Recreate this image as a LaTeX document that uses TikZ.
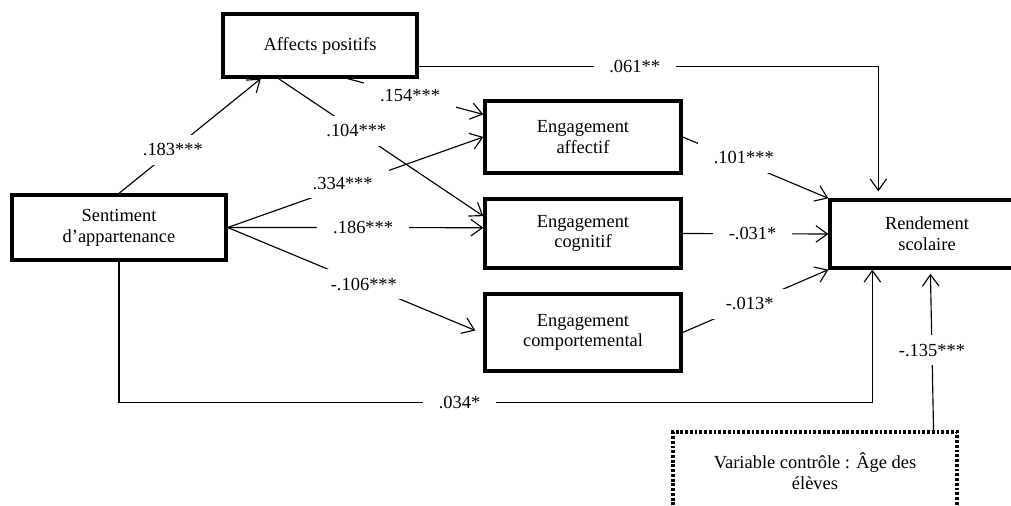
\documentclass[tikz,border=0pt]{standalone}
\usepackage{fontspec}
\setmainfont{Liberation Serif}
\usetikzlibrary{calc,arrows.meta}

\begin{document}
\begin{tikzpicture}[
    x=0.02cm, y=-0.02cm,
    font=\fontsize{10.5}{11.8}\selectfont,
    varbox/.style={draw, line width=1.9pt, align=center, inner sep=2pt},
    ctrlbox/.style={draw, line width=1.8pt, dash pattern=on 1.6pt off 1.1pt, align=center},
    fleche/.style={line width=0.65pt, -{Straight Barb[length=2.3mm,width=3.3mm]}},
    coef/.style={fill=white, inner xsep=9pt, inner ysep=5pt}
  ]
  \useasboundingbox (0,0) rectangle (1011,506);
  \clip (0,0) rectangle (1011,506);

  % variables
  \node[varbox, minimum width=3.88cm, minimum height=1.26cm] (aff) at (320,45.5) {Affects positifs};
  \node[varbox, minimum width=4.28cm, minimum height=1.3cm] (sent) at (119,227.5) {Sentiment\\d’appartenance};
  \node[varbox, minimum width=3.92cm, minimum height=1.44cm] (eaff) at (583,137) {Engagement\\affectif};
  \node[varbox, minimum width=3.92cm, minimum height=1.38cm] (ecog) at (583,233.5) {Engagement\\cognitif};
  \node[varbox, minimum width=3.92cm, minimum height=1.54cm] (ecomp) at (583,332.5) {Engagement\\comportemental};
  \node[varbox, minimum width=3.88cm, minimum height=1.36cm] (rend) at (927,234) {Rendement\\scolaire};
  \node[ctrlbox, minimum width=5.68cm, minimum height=1.56cm] (ctrl) at (815,471) {Variable contrôle : Âge des\\élèves};

  % effets du sentiment d'appartenance
  \draw[fleche] (sent.north) -- node[coef, pos=0.38]{.183***} ($(aff.south west)!0.2!(aff.south east)$);
  \draw[fleche] (sent.east) -- node[coef, pos=0.45, yshift=2pt]{.334***} (eaff.west);
  \draw[fleche] (sent.east) -- node[coef, pos=0.53]{.186***} ($(ecog.north west)!0.42!(ecog.south west)$);
  \draw[fleche] (sent.east) -- node[coef, pos=0.55]{-.106***} ($(ecomp.west)+(-8,-2)$);
  \draw[fleche] (sent.south) -- ++(0,141) -| node[coef, pos=0.226]{.034*} ($(rend.south west)+(44,0)$);

  % effets des affects positifs
  \draw[fleche] ($(aff.south west)!0.64!(aff.south east)$) -- node[coef, pos=0.46]{.154***} ($(eaff.north west)!0.2!(eaff.south west)$);
  \draw[fleche] ($(aff.south west)!0.29!(aff.south east)$) -- node[coef, pos=0.38]{.104***} ($(ecog.north west)!0.26!(ecog.south west)$);
  \draw[fleche, shorten >=0.14cm] ($(aff.south east)+(0,-12)$) -| node[coef, pos=0.235]{.061**} ($(rend.north west)+(50,0)$);

  % effets de l'engagement
  \draw[fleche] (eaff.east) -- node[coef, pos=0.42, yshift=3pt]{.101***} (rend.north west);
  \draw[fleche] (ecog.east) -- node[coef, pos=0.48]{-.031*} (rend.west);
  \draw[fleche] (ecomp.east) -- node[coef, pos=0.46]{-.013*} (rend.south west);

  % variable de controle
  \draw[fleche, shorten >=0.08cm] ($(ctrl.north east)+(-25,0)$) -- node[coef, pos=0.5]{-.135***} ($(rend.south west)+(102,0)$);
\end{tikzpicture}
\end{document}
